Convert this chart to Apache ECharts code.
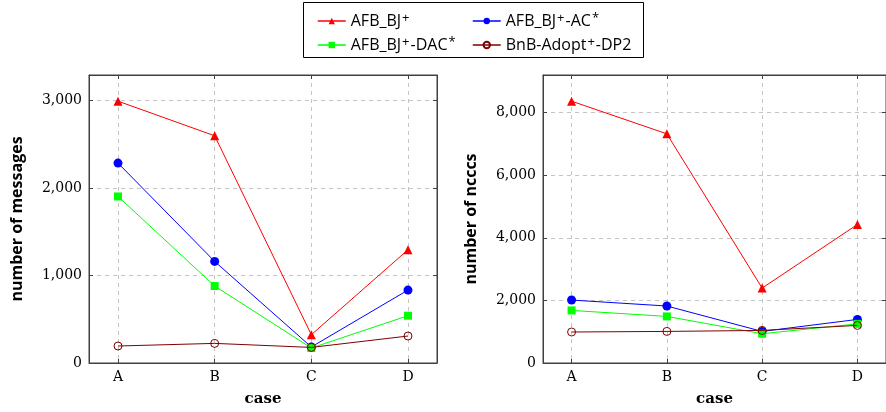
<!DOCTYPE html>
<html>
<head>
<meta charset="utf-8">
<script src="https://cdn.jsdelivr.net/npm/echarts@6/dist/echarts.min.js"></script>
<style>html,body{margin:0;padding:0;background:#fff}#c{width:886px;height:412px}</style>
</head>
<body>
<div id="c"></div>
<script>
const categories = ['A', 'B', 'C', 'D'];
const seriesNames = ['AFB_BJ+', 'AFB_BJ+-AC*', 'AFB_BJ+-DAC*', 'BnB-Adopt+-DP2'];

// number of messages (left)
const msgAFB = [2990, 2595, 323, 1293];
const msgAC = [2283, 1160, 183, 833];
const msgDAC = [1902, 879, 171, 540];
const msgBnB = [194, 224, 178, 308];

// number of ncccs (right)
const ncccAFB = [8364, 7320, 2394, 4425];
const ncccAC = [2011, 1820, 1009, 1392];
const ncccDAC = [1680, 1488, 935, 1250];
const ncccBnB = [990, 1009, 1041, 1200];

const leftTicks = [0, 1000, 2000, 3000];
const rightTicks = [0, 2000, 4000, 6000, 8000];

const colors = ['#ff0000', '#0000ff', '#00ff00', '#800000'];
const symbols = ['triangle', 'circle', 'rect', 'circle'];
const symbolSizes = [9, 9, 8, 8];

const xIdx = categories.map((c, i) => i);
const frameColor = '#404040';
const serif = 'DejaVu Serif';
const sans = 'Open Sans';

function yMaxOf(arrs) { return Math.max(...arrs.flat()) * 1.1; }

function xAxes(gridIndex) {
  const base = {
    type: 'value', gridIndex, min: -0.3, max: 3.3,
    axisLine: { show: true, onZero: false, lineStyle: { color: frameColor, width: 1 } },
    axisTick: { show: true, inside: true, length: 4, customValues: xIdx, lineStyle: { color: frameColor } },
  };
  return [
    Object.assign({}, base, {
      position: 'bottom',
      name: 'case', nameLocation: 'middle', nameGap: 29,
      nameTextStyle: { fontFamily: serif, fontWeight: 'bold', fontSize: 15, color: '#000' },
      axisLabel: { show: true, customValues: xIdx, formatter: v => categories[Math.round(v)], margin: 7,
        fontFamily: serif, fontSize: 14, color: '#000' },
      splitLine: { show: true, lineStyle: { color: '#c4c4c4', type: [4, 4], width: 1 } }
    }),
    Object.assign({}, base, {
      position: 'top', axisLabel: { show: false }, splitLine: { show: false }
    })
  ];
}

function yAxes(gridIndex, ticks, max, name, gap) {
  const base = {
    type: 'value', gridIndex, min: 0, max: max,
    axisLine: { show: true, onZero: false, lineStyle: { color: frameColor, width: 1 } },
    axisTick: { show: true, inside: true, length: 4, customValues: ticks, lineStyle: { color: frameColor } },
  };
  return [
    Object.assign({}, base, {
      position: 'left',
      name: name, nameLocation: 'middle', nameGap: gap, nameRotate: 90,
      nameTextStyle: { fontFamily: sans, fontWeight: 'bold', fontSize: 16, color: '#000' },
      axisLabel: { show: true, customValues: ticks, margin: 7,
        formatter: v => Number(v).toLocaleString('en-US'),
        fontFamily: serif, fontSize: 14, color: '#000' },
      splitLine: { show: true, lineStyle: { color: '#c4c4c4', type: [4, 4], width: 1 } }
    }),
    Object.assign({}, base, {
      position: 'right', axisLabel: { show: false }, splitLine: { show: false }
    })
  ];
}

function mkSeries(name, i, vals, xi, yi) {
  const open = i === 3;
  return {
    type: 'line', name: name, xAxisIndex: xi, yAxisIndex: yi,
    data: vals.map((v, k) => [xIdx[k], v]),
    symbol: symbols[i], symbolSize: symbolSizes[i], showAllSymbol: true,
    lineStyle: { color: colors[i], width: 1 },
    itemStyle: open ? { color: 'rgba(255,255,255,0)', borderColor: colors[i], borderWidth: 1 } : { color: colors[i], borderWidth: 0 },
    emphasis: { disabled: true }, animation: false, z: 2 + i
  };
}

const leftSets = [msgAFB, msgAC, msgDAC, msgBnB];
const rightSets = [ncccAFB, ncccAC, ncccDAC, ncccBnB];

const supFmt = name => {
  return name.split(/([+*])/).filter(s => s.length).map(s => (s === '+' || s === '*') ? '{s|' + s + '}' : '{t|' + s + '}').join('');
};
const legendText = {
  fontFamily: sans, fontSize: 16, color: '#000',
  rich: {
    t: { fontFamily: sans, fontSize: 16, color: '#000', lineHeight: 18 },
    s: { fontFamily: sans, fontSize: 13, color: '#000', verticalAlign: 'top', lineHeight: 18, padding: [0, 1, 7, 1] }
  }
};
function legendCol(left, names) {
  return {
    orient: 'vertical', left: left, top: 12, itemWidth: 28, itemHeight: 8, itemGap: 4,
    padding: 0, data: names, formatter: supFmt, textStyle: legendText, selectedMode: false,
    lineStyle: { width: 1.5 }
  };
}

const chart = echarts.init(document.getElementById('c'), null, { renderer: 'canvas' });
chart.setOption({
  animation: false,
  backgroundColor: '#fff',
  grid: [
    { left: 89, top: 75, width: 348, bottom: 48.7, show: true, borderColor: frameColor, borderWidth: 1, containLabel: false },
    { left: 543, top: 75, width: 347.3, bottom: 48.7, show: true, borderColor: frameColor, borderWidth: 1, containLabel: false }
  ],
  legend: [
    legendCol(317, [seriesNames[0], seriesNames[2]]),
    legendCol(472, [seriesNames[1], seriesNames[3]])
  ],
  graphic: [{
    type: 'rect', shape: { x: 303.5, y: 2.5, width: 340, height: 55 },
    style: { fill: 'none', stroke: '#000', lineWidth: 1 }, silent: true
  }],
  xAxis: [...xAxes(0), ...xAxes(1)],
  yAxis: [
    ...yAxes(0, leftTicks, yMaxOf(leftSets), 'number of messages', 64),
    ...yAxes(1, rightTicks, yMaxOf(rightSets), 'number of ncccs', 64)
  ],
  series: [
    ...leftSets.map((vals, i) => mkSeries(seriesNames[i], i, vals, 0, 0)),
    ...rightSets.map((vals, i) => mkSeries(seriesNames[i], i, vals, 2, 2))
  ]
});
</script>
</body>
</html>
